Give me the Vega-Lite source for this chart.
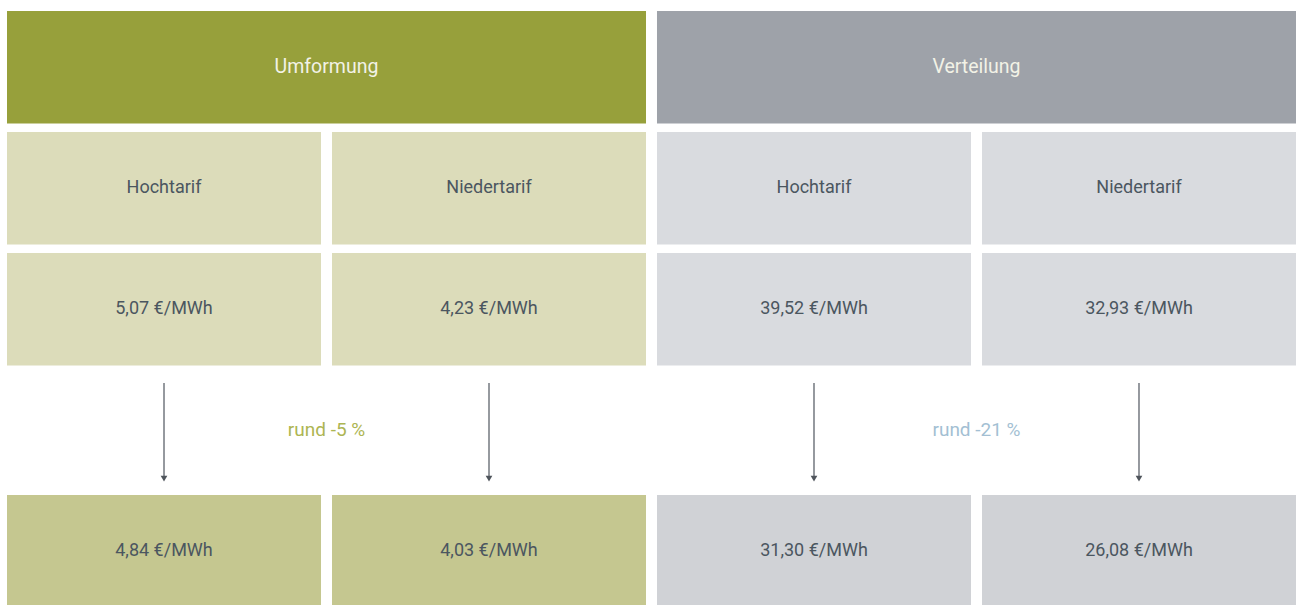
{
  "$schema": "https://vega.github.io/schema/vega-lite/v6.json",
  "width": 1300,
  "height": 605,
  "padding": 0,
  "autosize": {"type": "none"},
  "background": "white",
  "config": {"view": {"stroke": null}, "font": "Roboto"},
  "datasets": {
    "kopf": [
      {"group": "Umformung", "row": "header", "typ": "Umformung Kopf", "text": "Umformung"},
      {"group": "Verteilung", "row": "header", "typ": "Verteilung Kopf", "text": "Verteilung"}
    ],
    "zellen": [
      {"col": "U-HT", "group": "Umformung", "row": "label", "typ": "Umformung Tarif", "text": "Hochtarif"},
      {"col": "U-NT", "group": "Umformung", "row": "label", "typ": "Umformung Tarif", "text": "Niedertarif"},
      {"col": "V-HT", "group": "Verteilung", "row": "label", "typ": "Verteilung Tarif", "text": "Hochtarif"},
      {"col": "V-NT", "group": "Verteilung", "row": "label", "typ": "Verteilung Tarif", "text": "Niedertarif"},
      {"col": "U-HT", "group": "Umformung", "row": "before", "typ": "Umformung Tarif", "value": 5.07, "text": "5,07 €/MWh"},
      {"col": "U-NT", "group": "Umformung", "row": "before", "typ": "Umformung Tarif", "value": 4.23, "text": "4,23 €/MWh"},
      {"col": "V-HT", "group": "Verteilung", "row": "before", "typ": "Verteilung Tarif", "value": 39.52, "text": "39,52 €/MWh"},
      {"col": "V-NT", "group": "Verteilung", "row": "before", "typ": "Verteilung Tarif", "value": 32.93, "text": "32,93 €/MWh"},
      {"col": "U-HT", "group": "Umformung", "row": "after", "typ": "Umformung neu", "value": 4.84, "text": "4,84 €/MWh"},
      {"col": "U-NT", "group": "Umformung", "row": "after", "typ": "Umformung neu", "value": 4.03, "text": "4,03 €/MWh"},
      {"col": "V-HT", "group": "Verteilung", "row": "after", "typ": "Verteilung neu", "value": 31.30, "text": "31,30 €/MWh"},
      {"col": "V-NT", "group": "Verteilung", "row": "after", "typ": "Verteilung neu", "value": 26.08, "text": "26,08 €/MWh"}
    ],
    "aenderung": [
      {"group": "Umformung", "text": "rund -5 %"},
      {"group": "Verteilung", "text": "rund -21 %"}
    ]
  },
  "layer": [
    {
      "data": {"name": "kopf"},
      "mark": {"type": "rect"},
      "encoding": {
        "x": {"field": "group", "type": "nominal", "axis": null,
              "scale": {"type": "band", "domain": ["Umformung", "Verteilung"], "range": [7, 1296], "paddingInner": 0.0169, "paddingOuter": 0}},
        "y": {"field": "row", "type": "nominal", "axis": null,
              "scale": {"type": "band", "domain": ["header", "label", "before", "arrow", "after"], "range": [11, 607.5], "paddingInner": 0.07, "paddingOuter": 0}},
        "color": {"field": "typ", "type": "nominal", "legend": null,
                  "scale": {"domain": ["Umformung Kopf", "Verteilung Kopf"], "range": ["#97a03b", "#9ea2a9"]}}
      }
    },
    {
      "data": {"name": "kopf"},
      "mark": {"type": "text", "fontSize": 19.5, "color": "#f2f2e6", "baseline": "middle", "align": "center"},
      "encoding": {
        "x": {"field": "group", "type": "nominal", "axis": null,
              "scale": {"type": "band", "domain": ["Umformung", "Verteilung"], "range": [7, 1296], "paddingInner": 0.0169, "paddingOuter": 0}},
        "y": {"field": "row", "type": "nominal", "axis": null},
        "text": {"field": "text"}
      }
    },
    {
      "data": {"name": "zellen"},
      "mark": {"type": "rect"},
      "encoding": {
        "x": {"field": "col", "type": "nominal", "axis": null,
              "scale": {"type": "band", "domain": ["U-HT", "U-NT", "V-HT", "V-NT"], "range": [7, 1296], "paddingInner": 0.0338, "paddingOuter": 0}},
        "y": {"field": "row", "type": "nominal", "axis": null},
        "color": {"field": "typ", "type": "nominal", "legend": null,
                  "scale": {"domain": ["Umformung Tarif", "Verteilung Tarif", "Umformung neu", "Verteilung neu"], "range": ["#dcdcba", "#d9dbdf", "#c5c790", "#d0d2d6"]}}
      }
    },
    {
      "data": {"name": "zellen"},
      "mark": {"type": "text", "fontSize": 18, "color": "#4b5660", "baseline": "middle", "align": "center"},
      "encoding": {
        "x": {"field": "col", "type": "nominal", "axis": null,
              "scale": {"type": "band", "domain": ["U-HT", "U-NT", "V-HT", "V-NT"], "range": [7, 1296], "paddingInner": 0.0338, "paddingOuter": 0}},
        "y": {"field": "row", "type": "nominal", "axis": null},
        "text": {"field": "text"}
      }
    },
    {
      "data": {"name": "zellen"},
      "transform": [{"filter": "datum.row === 'after'"}],
      "mark": {"type": "rule", "strokeWidth": 1.3, "color": "#5d636b"},
      "encoding": {
        "x": {"field": "col", "type": "nominal", "axis": null,
              "scale": {"type": "band", "domain": ["U-HT", "U-NT", "V-HT", "V-NT"], "range": [7, 1296], "paddingInner": 0.0338, "paddingOuter": 0}},
        "y": {"datum": "arrow", "type": "nominal", "axis": null, "bandPosition": 0.08},
        "y2": {"datum": "arrow", "bandPosition": 0.93}
      }
    },
    {
      "data": {"name": "zellen"},
      "transform": [{"filter": "datum.row === 'after'"}],
      "mark": {"type": "point", "shape": "triangle-down", "filled": true, "size": 45, "color": "#4f555c", "opacity": 1},
      "encoding": {
        "x": {"field": "col", "type": "nominal", "axis": null,
              "scale": {"type": "band", "domain": ["U-HT", "U-NT", "V-HT", "V-NT"], "range": [7, 1296], "paddingInner": 0.0338, "paddingOuter": 0}},
        "y": {"datum": "arrow", "type": "nominal", "axis": null, "bandPosition": 0.93}
      }
    },
    {
      "data": {"name": "aenderung"},
      "mark": {"type": "text", "fontSize": 19, "baseline": "middle", "align": "center"},
      "encoding": {
        "x": {"field": "group", "type": "nominal", "axis": null,
              "scale": {"type": "band", "domain": ["Umformung", "Verteilung"], "range": [7, 1296], "paddingInner": 0.0169, "paddingOuter": 0}},
        "y": {"datum": "arrow", "type": "nominal", "axis": null},
        "color": {"field": "group", "type": "nominal", "legend": null,
                  "scale": {"domain": ["Umformung", "Verteilung"], "range": ["#adb553", "#a3bfd3"]}},
        "text": {"field": "text"}
      }
    }
  ],
  "resolve": {"scale": {"x": "independent", "color": "independent"}}
}
